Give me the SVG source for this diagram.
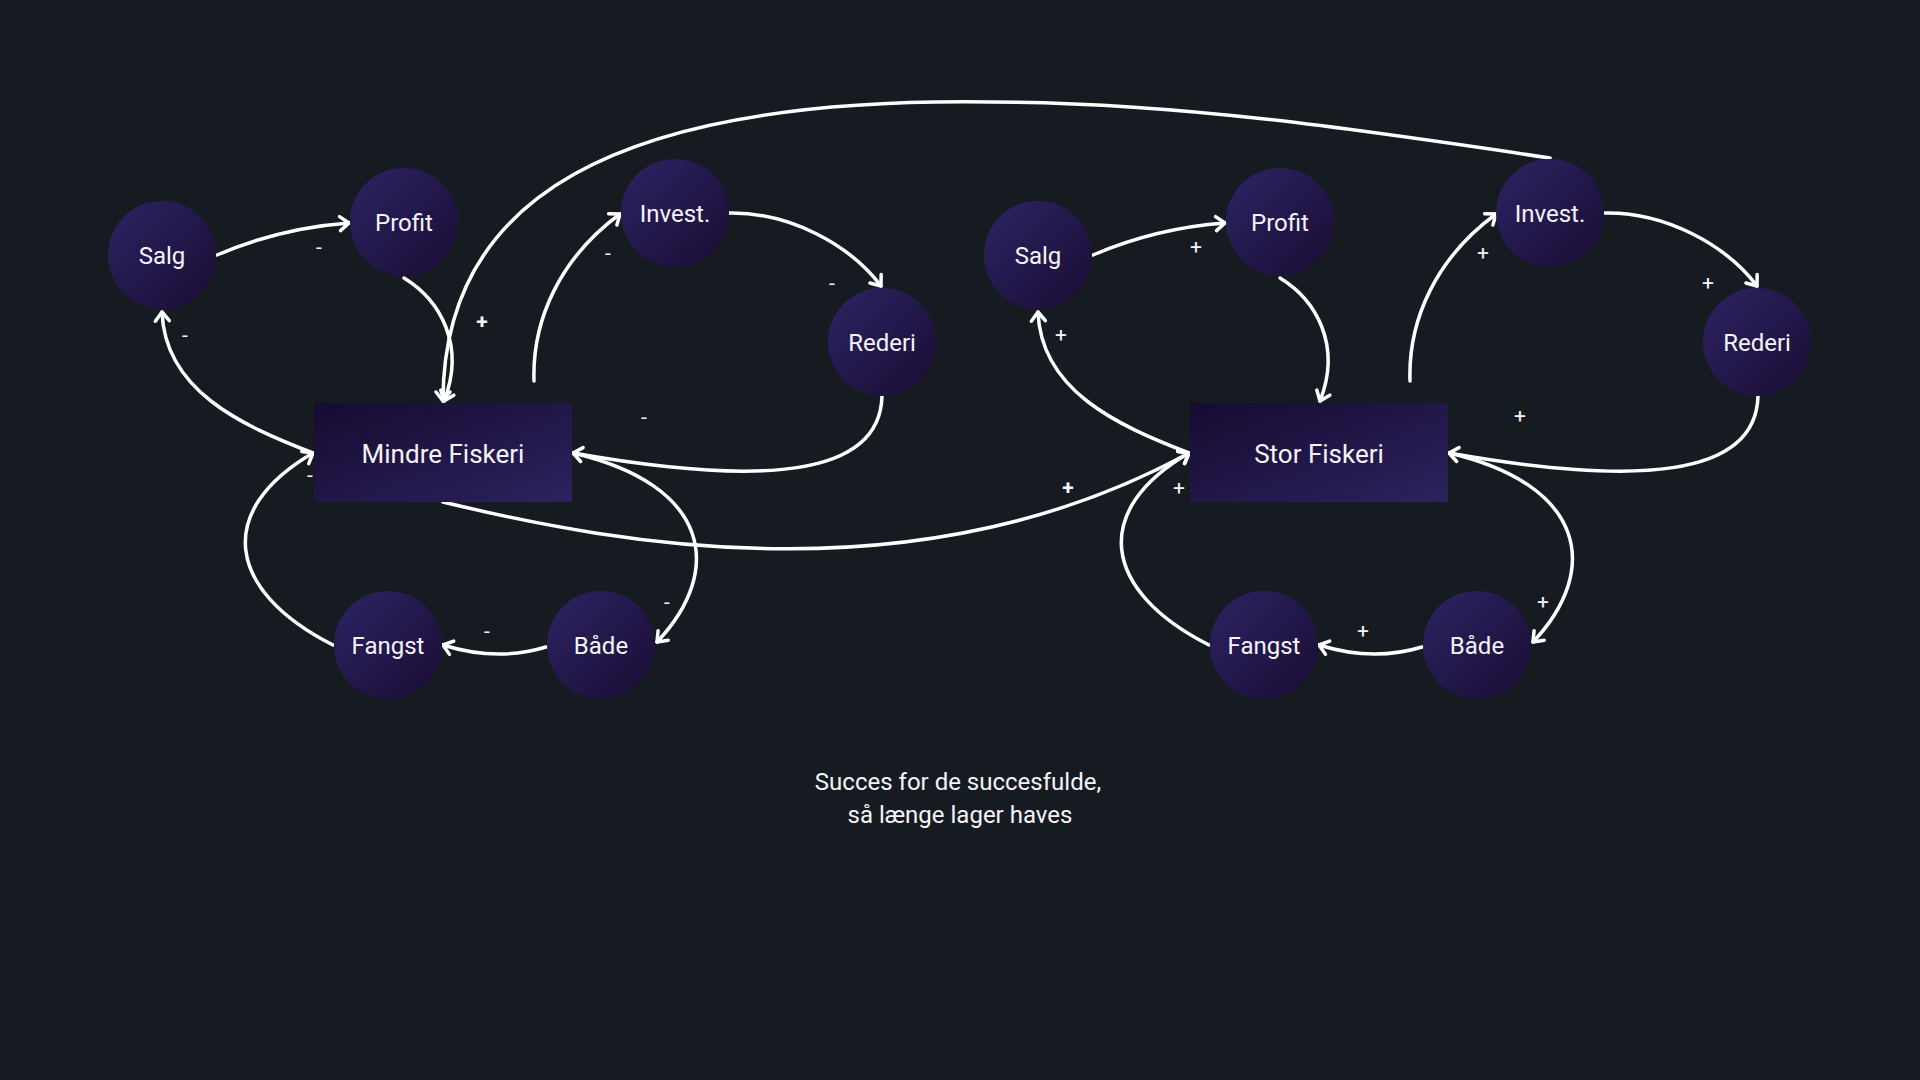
<svg xmlns="http://www.w3.org/2000/svg" width="1920" height="1080" viewBox="0 0 1920 1080">
<defs>
<linearGradient id="gc" x1="0" y1="0" x2="1" y2="1">
<stop offset="0" stop-color="#2d2363"/>
<stop offset="1" stop-color="#190d33"/>
</linearGradient>
<linearGradient id="gr" x1="0" y1="0" x2="1" y2="1">
<stop offset="0" stop-color="#160b30"/>
<stop offset="1" stop-color="#2c225e"/>
</linearGradient>
<marker id="ah" markerUnits="userSpaceOnUse" markerWidth="24" markerHeight="24" viewBox="-12 -12 24 24" refX="0" refY="0" orient="auto">
<path d="M -9,-7 L 0,0 L -9,7" fill="none" stroke="#ffffff" stroke-width="3.5" stroke-linecap="round" stroke-linejoin="round"/>
</marker>
<style>
.n{fill:url(#gc);}
.r{fill:url(#gr);}
.t{font-family:Roboto,"Liberation Sans",sans-serif;font-size:24px;fill:#f4f4f8;text-anchor:middle;}
.rt{font-family:Roboto,"Liberation Sans",sans-serif;font-size:26px;fill:#f4f4f8;text-anchor:middle;}
.e{fill:none;stroke:#ffffff;stroke-width:3.5;stroke-linecap:round;}
.a{marker-end:url(#ah);}
.l{font-family:Roboto,"Liberation Sans",sans-serif;font-size:21px;fill:#f4f4f8;text-anchor:middle;}
.lb{font-weight:bold;}
.cap{font-family:Roboto,"Liberation Sans",sans-serif;font-size:24px;fill:#f4f4f8;text-anchor:middle;}
</style>
</defs>
<rect x="0" y="0" width="1920" height="1080" fill="#161b22"/>

<g id="connectors">
<!-- Mindre side -->
<path class="e a" d="M 217,255 Q 280,228 349,223"/>
<path class="e a" d="M 404,278 C 440,300 466,345 444,401"/>
<path class="e a" d="M 534,381 C 532,320 560,258 620,214"/>
<path class="e a" d="M 729,213 C 790,212 850,245 881,286"/>
<path class="e a" d="M 882,396 C 880,478 760,486 573,453"/>
<path class="e a" d="M 573,453 C 710,485 725,570 657,642"/>
<path class="e a" d="M 546,647 Q 497,662 443,645"/>
<path class="e a" d="M 333,645 C 225,590 215,510 313,453"/>
<path class="e a" d="M 313,453 C 240,425 165,390 162,312"/>
<!-- Stor side -->
<path class="e a" d="M 1093,255 Q 1156,228 1225,223"/>
<path class="e a" d="M 1280,278 C 1316,300 1342,345 1320,401"/>
<path class="e a" d="M 1410,381 C 1408,320 1436,258 1496,214"/>
<path class="e a" d="M 1605,213 C 1666,212 1726,245 1757,286"/>
<path class="e a" d="M 1758,396 C 1756,478 1636,486 1449,453"/>
<path class="e a" d="M 1449,453 C 1586,485 1601,570 1533,642"/>
<path class="e a" d="M 1422,647 Q 1373,662 1319,645"/>
<path class="e a" d="M 1209,645 C 1101,590 1091,510 1189,453"/>
<path class="e a" d="M 1189,453 C 1116,425 1041,390 1038,312"/>
<!-- cross links -->
<path class="e a" d="M 443,502 C 620,545 920,600 1189,453"/>
<path class="e a" d="M 1550,158 C 1350,128 1170,102 990,102 C 610,97 443,200 443,401"/>
</g>

<g id="labels">
<text class="l" x="319" y="254">-</text>
<text class="l" x="608" y="260">-</text>
<text class="l" x="832" y="290">-</text>
<text class="l" x="644" y="424">-</text>
<text class="l" x="667" y="609">-</text>
<text class="l" x="487" y="638">-</text>
<text class="l" x="310" y="482">-</text>
<text class="l" x="185" y="342">-</text>
<text class="l" x="1196" y="254">+</text>
<text class="l" x="1483" y="260">+</text>
<text class="l" x="1708" y="290">+</text>
<text class="l" x="1520" y="423">+</text>
<text class="l" x="1543" y="609">+</text>
<text class="l" x="1363" y="638">+</text>
<text class="l" x="1179" y="495">+</text>
<text class="l" x="1061" y="342">+</text>
<text class="l lb" x="482" y="329">+</text>
<text class="l lb" x="1068" y="495">+</text>
</g>

<g id="m-salg"><circle class="n" cx="162" cy="255" r="54"/><text class="t" x="162" y="263.5">Salg</text></g>
<g id="m-profit"><circle class="n" cx="404" cy="222" r="54"/><text class="t" x="404" y="230.5">Profit</text></g>
<g id="m-invest"><circle class="n" cx="675" cy="213" r="54"/><text class="t" x="675" y="221.5">Invest.</text></g>
<g id="m-rederi"><circle class="n" cx="882" cy="342" r="54"/><text class="t" x="882" y="350.5">Rederi</text></g>
<g id="m-fangst"><circle class="n" cx="388" cy="645" r="54"/><text class="t" x="388" y="653.5">Fangst</text></g>
<g id="m-baade"><circle class="n" cx="601" cy="645" r="54"/><text class="t" x="601" y="653.5">Både</text></g>
<g id="mindre-fiskeri"><rect class="r" x="314" y="403" width="258" height="99" rx="2"/><text class="rt" x="443" y="463">Mindre Fiskeri</text></g>

<g id="s-salg"><circle class="n" cx="1038" cy="255" r="54"/><text class="t" x="1038" y="263.5">Salg</text></g>
<g id="s-profit"><circle class="n" cx="1280" cy="222" r="54"/><text class="t" x="1280" y="230.5">Profit</text></g>
<g id="s-invest"><circle class="n" cx="1550" cy="213" r="54"/><text class="t" x="1550" y="221.5">Invest.</text></g>
<g id="s-rederi"><circle class="n" cx="1757" cy="342" r="54"/><text class="t" x="1757" y="350.5">Rederi</text></g>
<g id="s-fangst"><circle class="n" cx="1264" cy="645" r="54"/><text class="t" x="1264" y="653.5">Fangst</text></g>
<g id="s-baade"><circle class="n" cx="1477" cy="645" r="54"/><text class="t" x="1477" y="653.5">Både</text></g>
<g id="stor-fiskeri"><rect class="r" x="1190" y="403" width="258" height="99" rx="2"/><text class="rt" x="1319" y="463">Stor Fiskeri</text></g>

<g id="caption">
<text class="cap" x="958" y="790">Succes for de succesfulde,</text>
<text class="cap" x="960" y="823">så længe lager haves</text>
</g>
</svg>
